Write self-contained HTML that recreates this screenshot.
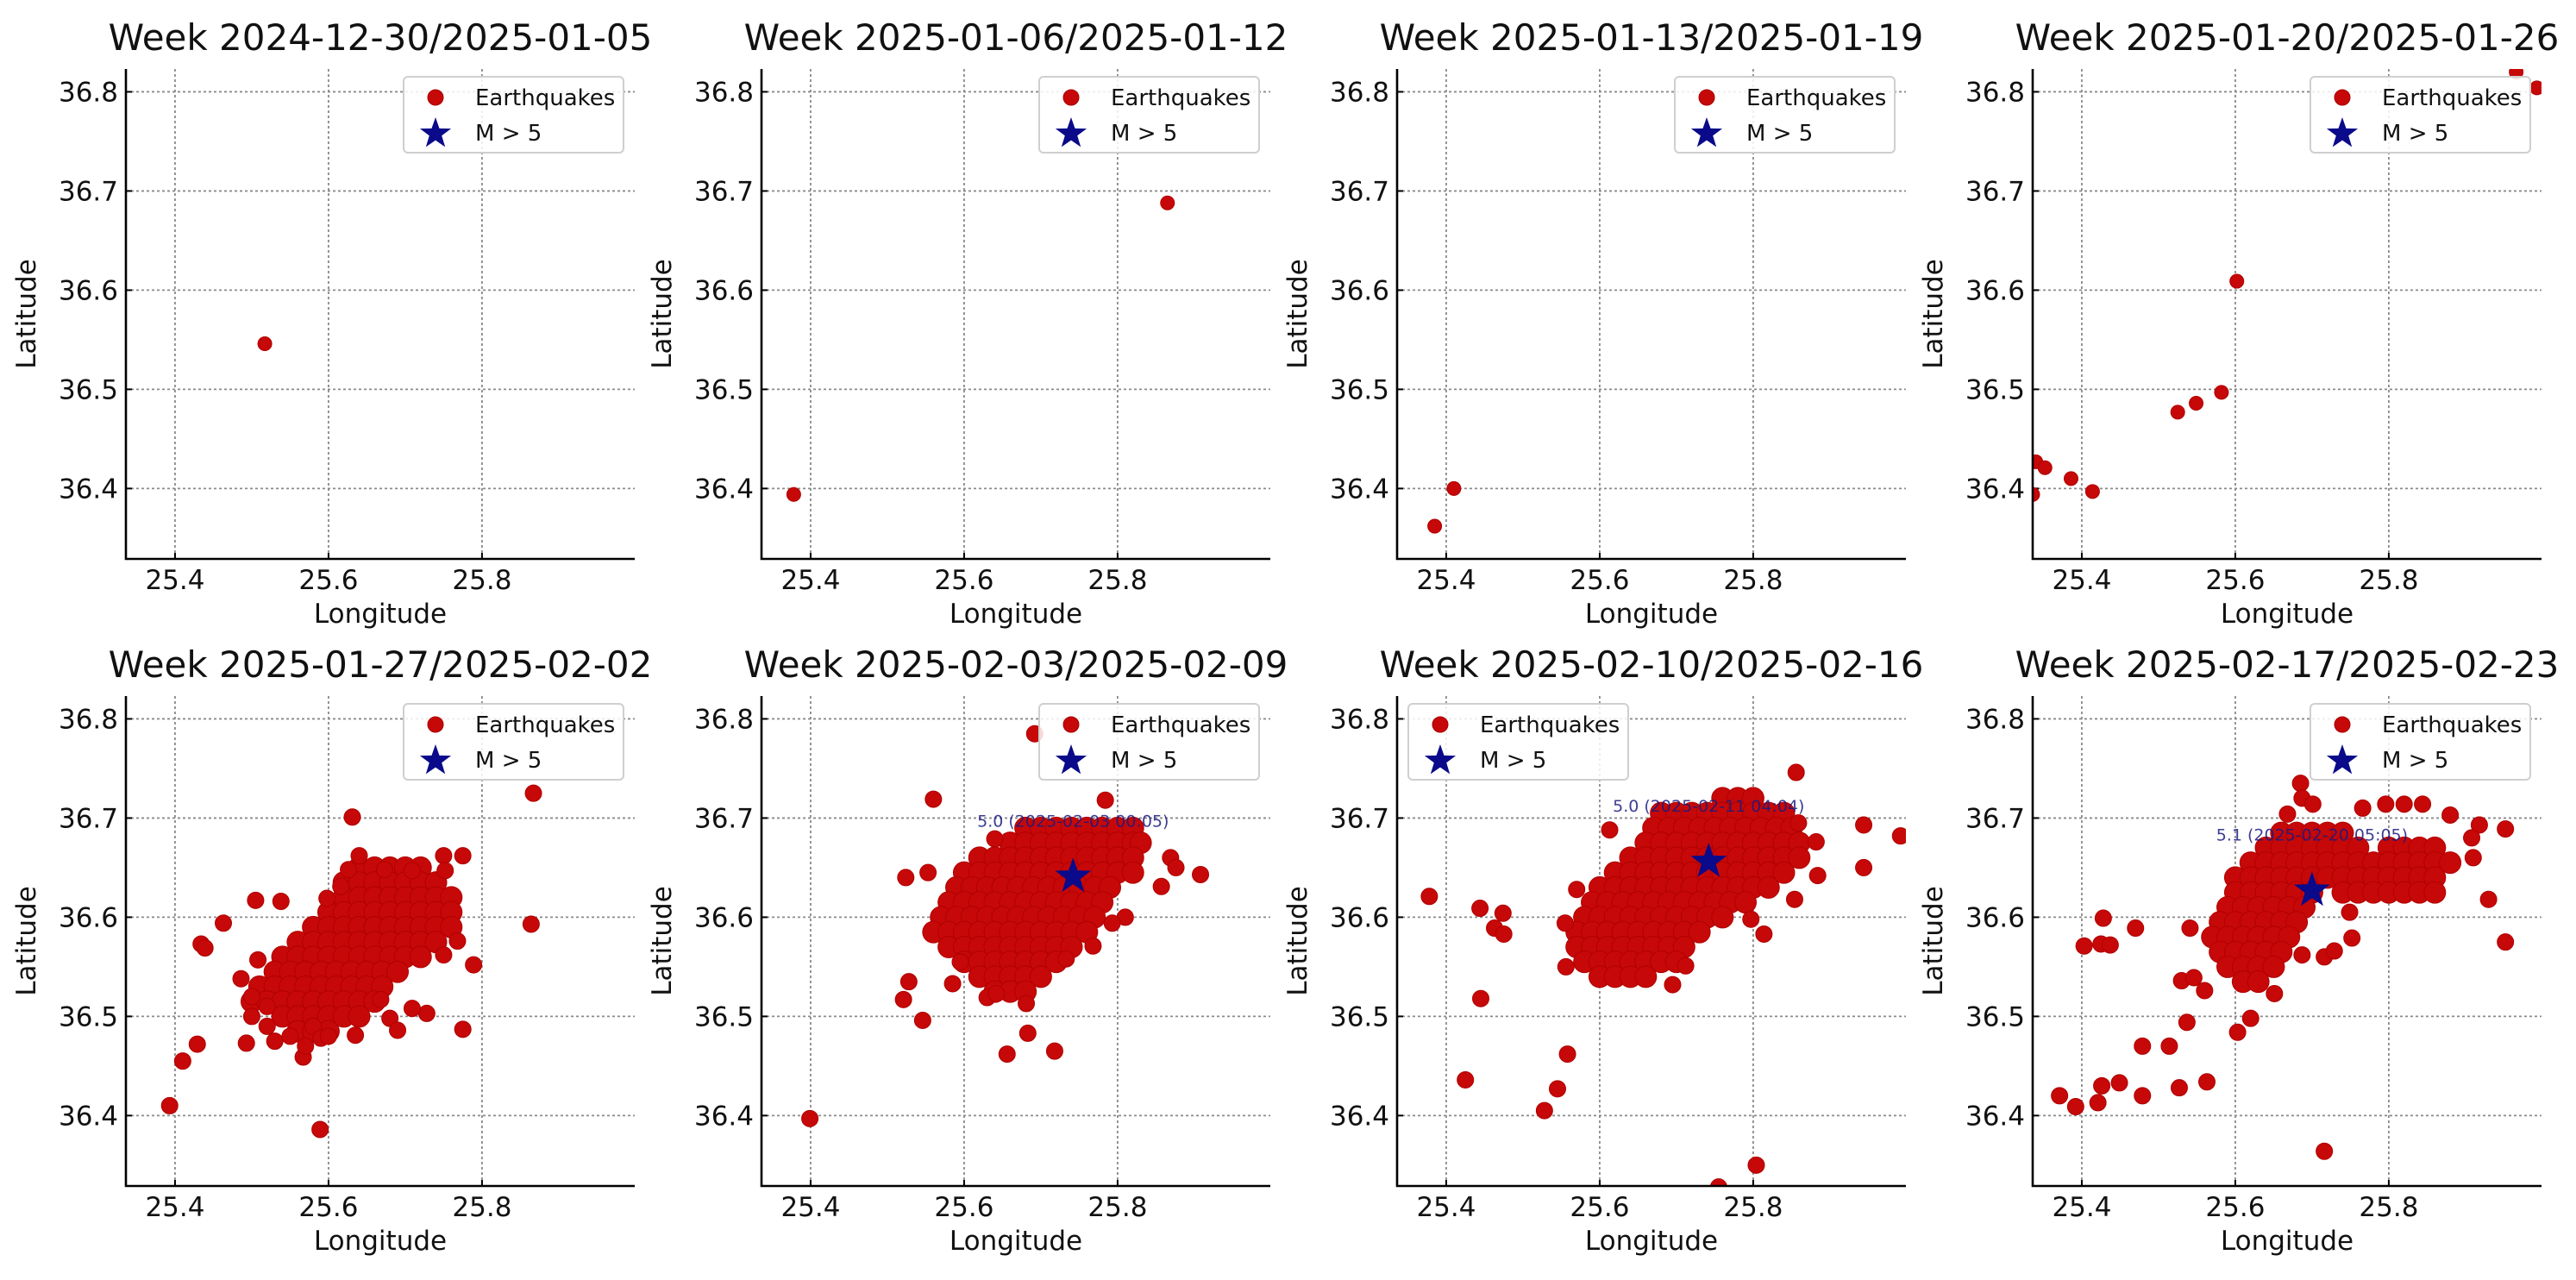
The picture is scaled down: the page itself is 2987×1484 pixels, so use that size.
<!DOCTYPE html>
<html><head><meta charset="utf-8">
<style>
html,body{margin:0;padding:0;background:#fff;}
svg{display:block;font-family:"DejaVu Sans","Liberation Sans",sans-serif;}
</style></head>
<body>
<svg id="fig" width="2987" height="1484" viewBox="0 0 2987 1484" xmlns="http://www.w3.org/2000/svg">
<rect width="2987" height="1484" fill="#fff"/>
</svg>
<script>
const weekTitles = ["Week 2024-12-30/2025-01-05","Week 2025-01-06/2025-01-12","Week 2025-01-13/2025-01-19","Week 2025-01-20/2025-01-26","Week 2025-01-27/2025-02-02","Week 2025-02-03/2025-02-09","Week 2025-02-10/2025-02-16","Week 2025-02-17/2025-02-23"];
const xTicks = [25.4,25.6,25.8];
const yTicks = [36.4,36.5,36.6,36.7,36.8];
const xTickLabels = ["25.4","25.6","25.8"];
const yTickLabels = ["36.4","36.5","36.6","36.7","36.8"];
const xDomain = [25.336,25.999];
const yDomain = [36.329,36.823];
const legendLeft = [false,false,false,false,false,false,true,false];

const pts1 = [[25.517,36.546]];
const pts2 = [[25.378,36.394],[25.865,36.688]];
const pts3 = [[25.385,36.362],[25.41,36.40]];
const pts4 = [[25.340,36.427],[25.352,36.421],[25.336,36.394],[25.386,36.410],[25.414,36.397],[25.525,36.477],[25.549,36.486],[25.582,36.497],[25.602,36.609],[25.966,36.820],[25.993,36.804]];
const pts5 = [[25.867,36.725],[25.631,36.701],[25.864,36.593],[25.393,36.410],[25.589,36.386],[25.410,36.455],[25.429,36.472],[25.493,36.473],[25.463,36.594],[25.434,36.573],[25.439,36.569],[25.505,36.617],[25.538,36.616],[25.598,36.619],[25.486,36.538],[25.508,36.557],[25.775,36.487],[25.789,36.552],[25.768,36.576],[25.750,36.562],[25.728,36.503],[25.709,36.508],[25.680,36.498],[25.690,36.486],[25.668,36.517],[25.635,36.481],[25.567,36.459],[25.775,36.662],[25.750,36.662],[25.752,36.647],[25.709,36.647],[25.640,36.662],[25.626,36.648],[25.616,36.631],[25.673,36.648],[25.50,36.52],[25.52,36.51],[25.50,36.50],[25.52,36.49],[25.55,36.48],[25.57,36.47],[25.53,36.475],[25.58,36.49],[25.59,36.478],[25.60,36.48]];
const rows5 = [
[36.65,[25.64,25.66,25.68,25.70,25.72]],
[36.635,[25.62,25.64,25.66,25.68,25.70,25.72,25.74]],
[36.62,[25.62,25.64,25.66,25.68,25.70,25.72,25.74,25.76]],
[36.605,[25.60,25.62,25.64,25.66,25.68,25.70,25.72,25.74,25.76]],
[36.59,[25.58,25.60,25.62,25.64,25.66,25.68,25.70,25.72,25.74,25.76]],
[36.575,[25.56,25.58,25.60,25.62,25.64,25.66,25.68,25.70,25.72,25.74]],
[36.56,[25.54,25.56,25.58,25.60,25.62,25.64,25.66,25.68,25.70,25.72]],
[36.545,[25.53,25.55,25.57,25.59,25.61,25.63,25.65,25.67,25.69]],
[36.53,[25.51,25.53,25.55,25.57,25.59,25.61,25.63,25.65,25.67]],
[36.515,[25.50,25.52,25.54,25.56,25.58,25.60,25.62,25.64,25.66]],
[36.50,[25.54,25.56,25.58,25.60,25.62,25.64]],
[36.485,[25.56,25.58,25.60]]];
const pts6 = [[25.692,36.785],[25.560,36.719],[25.784,36.718],[25.524,36.640],[25.553,36.645],[25.908,36.643],[25.869,36.660],[25.876,36.650],[25.857,36.631],[25.810,36.600],[25.399,36.397],[25.521,36.517],[25.528,36.535],[25.546,36.496],[25.585,36.533],[25.595,36.555],[25.630,36.519],[25.642,36.523],[25.681,36.513],[25.683,36.483],[25.656,36.462],[25.718,36.465],[25.733,36.558],[25.768,36.571],[25.793,36.594],[25.640,36.679]];
const rows6 = [
[36.69,[25.68,25.70,25.72,25.74,25.76,25.78,25.80,25.82]],
[36.675,[25.66,25.68,25.70,25.72,25.74,25.76,25.78,25.80,25.82,25.83]],
[36.66,[25.62,25.64,25.66,25.68,25.70,25.72,25.74,25.76,25.78,25.80,25.82]],
[36.645,[25.60,25.62,25.64,25.66,25.68,25.70,25.72,25.74,25.76,25.78,25.80,25.82]],
[36.63,[25.59,25.61,25.63,25.65,25.67,25.69,25.71,25.73,25.75,25.77,25.79]],
[36.615,[25.58,25.60,25.62,25.64,25.66,25.68,25.70,25.72,25.74,25.76,25.78]],
[36.60,[25.57,25.59,25.61,25.63,25.65,25.67,25.69,25.71,25.73,25.75,25.77]],
[36.585,[25.56,25.58,25.60,25.62,25.64,25.66,25.68,25.70,25.72,25.74,25.76]],
[36.57,[25.58,25.60,25.62,25.64,25.66,25.68,25.70,25.72,25.74]],
[36.555,[25.60,25.62,25.64,25.66,25.68,25.70,25.72]],
[36.54,[25.62,25.64,25.66,25.68,25.70]],
[36.525,[25.64,25.66,25.68]]];
const pts7 = [[25.378,36.621],[25.444,36.609],[25.474,36.604],[25.463,36.589],[25.475,36.583],[25.445,36.518],[25.425,36.436],[25.558,36.462],[25.545,36.427],[25.528,36.405],[25.804,36.350],[25.755,36.328],[25.555,36.594],[25.556,36.550],[25.570,36.628],[25.613,36.688],[25.856,36.746],[25.944,36.693],[25.992,36.682],[25.944,36.650],[25.884,36.642],[25.882,36.676],[25.854,36.618],[25.797,36.598],[25.814,36.583],[25.695,36.532],[25.712,36.551],[25.859,36.695]];
const rows7 = [
[36.72,[25.76,25.78,25.80]],
[36.705,[25.68,25.70,25.72,25.74,25.76,25.78,25.80,25.82,25.84]],
[36.69,[25.67,25.69,25.71,25.73,25.75,25.77,25.79,25.81,25.83,25.85]],
[36.675,[25.66,25.68,25.70,25.72,25.74,25.76,25.78,25.80,25.82,25.84,25.86]],
[36.66,[25.64,25.66,25.68,25.70,25.72,25.74,25.76,25.78,25.80,25.82,25.84,25.86]],
[36.645,[25.62,25.64,25.66,25.68,25.70,25.72,25.74,25.76,25.78,25.80,25.82,25.84]],
[36.63,[25.60,25.62,25.64,25.66,25.68,25.70,25.72,25.74,25.76,25.78,25.80,25.82]],
[36.615,[25.59,25.61,25.63,25.65,25.67,25.69,25.71,25.73,25.75,25.77,25.79]],
[36.60,[25.58,25.60,25.62,25.64,25.66,25.68,25.70,25.72,25.74,25.76]],
[36.585,[25.57,25.59,25.61,25.63,25.65,25.67,25.69,25.71,25.73]],
[36.57,[25.57,25.59,25.61,25.63,25.65,25.67,25.69,25.71]],
[36.555,[25.58,25.60,25.62,25.64,25.66,25.68,25.70]],
[36.54,[25.60,25.62,25.64,25.66]]];
const pts8 = [[25.371,36.420],[25.392,36.409],[25.421,36.413],[25.426,36.430],[25.449,36.433],[25.479,36.420],[25.479,36.470],[25.514,36.470],[25.527,36.428],[25.563,36.434],[25.537,36.494],[25.603,36.484],[25.620,36.498],[25.651,36.523],[25.716,36.364],[25.560,36.526],[25.530,36.536],[25.546,36.539],[25.403,36.571],[25.425,36.573],[25.437,36.572],[25.428,36.599],[25.470,36.589],[25.541,36.589],[25.952,36.575],[25.930,36.618],[25.952,36.689],[25.918,36.693],[25.908,36.680],[25.910,36.660],[25.880,36.703],[25.844,36.714],[25.796,36.714],[25.820,36.714],[25.766,36.710],[25.685,36.735],[25.687,36.720],[25.701,36.714],[25.668,36.704],[25.752,36.579],[25.749,36.605],[25.716,36.560],[25.729,36.566],[25.687,36.562]];
const rows8 = [
[36.685,[25.66,25.68,25.70,25.72,25.74]],
[36.67,[25.64,25.66,25.68,25.70,25.72,25.74,25.76,25.80,25.82,25.84,25.86]],
[36.655,[25.62,25.64,25.66,25.68,25.70,25.72,25.74,25.76,25.78,25.80,25.82,25.84,25.86,25.88]],
[36.64,[25.60,25.62,25.64,25.66,25.68,25.70,25.72,25.74,25.76,25.78,25.80,25.82,25.84,25.86]],
[36.625,[25.60,25.62,25.64,25.66,25.68,25.70,25.74,25.76,25.78,25.80,25.82,25.84,25.86]],
[36.61,[25.59,25.61,25.63,25.65,25.67,25.69]],
[36.595,[25.58,25.60,25.62,25.64,25.66,25.68]],
[36.58,[25.57,25.59,25.61,25.63,25.65,25.67]],
[36.565,[25.58,25.60,25.62,25.64,25.66]],
[36.55,[25.59,25.61,25.63,25.65]],
[36.535,[25.61,25.63]]];

const pointSets = [pts1,pts2,pts3,pts4,pts5,pts6,pts7,pts8];
const rowSets = [[],[],[],[],rows5,rows6,rows7,rows8];
const bigQuakeLon = [null,null,null,null,null,25.742,25.742,25.700];
const bigQuakeLat = [null,null,null,null,null,36.641,36.656,36.627];
const bigQuakeLabels = ["","","","","","5.0 (2025-02-03 00:05)","5.0 (2025-02-11 04:04)","5.1 (2025-02-20 05:05)"];

const NS = "http://www.w3.org/2000/svg";
const svg = document.getElementById('fig');
function mk(tag, attrs, parent){
  const e = document.createElementNS(NS, tag);
  for (const k in attrs) e.setAttribute(k, attrs[k]);
  (parent||svg).appendChild(e);
  return e;
}
function starPath(cx, cy, R){
  const r = R*0.4; let d = "";
  for (let i=0;i<10;i++){
    const rad = i%2===0 ? R : r;
    const a = -Math.PI/2 + i*Math.PI/5;
    d += (i===0?"M":"L") + (cx+rad*Math.cos(a)).toFixed(1) + "," + (cy+rad*Math.sin(a)).toFixed(1);
  }
  return d + "Z";
}

const W = 590;
for (let p=0;p<8;p++){
  const col = p%4, row = Math.floor(p/4);
  const L = 146 + col*737, T = row===0 ? 80 : 807, H = 568;
  const B = T + H, R = L + W;
  const sx = v => L + (v - xDomain[0])/(xDomain[1]-xDomain[0])*W;
  const sy = v => B - (v - yDomain[0])/(yDomain[1]-yDomain[0])*H;
  const g = mk('g', {});
  
  

  const title = mk('text', {x: L+W/2, y: T-22, 'text-anchor':'middle', 'font-size':42, fill:'#111'}, g);
  title.textContent = weekTitles[p];
  
  

  const clipId = 'clip'+p;
  const cp = mk('clipPath', {id: clipId}, g);
  mk('rect', {x:L, y:T, width:W, height:H}, cp);

  xTicks.forEach((t,i)=>{
    const gl = mk('line', {x1:sx(t), x2:sx(t), y1:T, y2:B, stroke:'#8a8a8a', 'stroke-width':1.8, 'stroke-dasharray':'3,3'}, g);
    
    
    mk('line', {x1:sx(t), x2:sx(t), y1:B, y2:B-7, stroke:'#000', 'stroke-width':2}, g);
    const tl = mk('text', {x:sx(t), y:B+35, 'text-anchor':'middle', 'font-size':31, fill:'#111'}, g);
    tl.textContent = xTickLabels[i];
    
    
  });
  yTicks.forEach((t,i)=>{
    const gl = mk('line', {x1:L, x2:R, y1:sy(t), y2:sy(t), stroke:'#8a8a8a', 'stroke-width':1.8, 'stroke-dasharray':'3,3'}, g);
    
    
    mk('line', {x1:L, x2:L+7, y1:sy(t), y2:sy(t), stroke:'#000', 'stroke-width':2}, g);
    const tl = mk('text', {x:L-9, y:sy(t)+11, 'text-anchor':'end', 'font-size':31, fill:'#111'}, g);
    tl.textContent = yTickLabels[i];
    
    
  });

  const marks = mk('g', {'clip-path':'url(#'+clipId+')'}, g);
  
  
  const rad = row===0 ? 8 : 9.5;
  const drawDot = (lon, lat, r) => {
    const c = mk('circle', {cx:sx(lon), cy:sy(lat), r:r, fill:'#c70808', stroke:'#b00000', 'stroke-width':1}, marks);
    
    
  };
  rowSets[p].forEach(rw => rw[1].forEach(lon => drawDot(lon, rw[0], 12.5)));
  pointSets[p].forEach(pt => drawDot(pt[0], pt[1], rad));

  if (bigQuakeLon[p] !== null){
    const st = mk('path', {d: starPath(sx(bigQuakeLon[p]), sy(bigQuakeLat[p]), 22), fill:'#0a0a8a'}, marks);
    
    
    const lb = mk('text', {x:sx(bigQuakeLon[p]), y:sy(bigQuakeLat[p])-58, 'text-anchor':'middle', 'font-size':19, fill:'#1a1a80', 'fill-opacity':0.85}, g);
    lb.textContent = bigQuakeLabels[p];
    
    
  }

  const sp = mk('path', {d:`M${L},${T}L${L},${B}L${R},${B}`, fill:'none', stroke:'#000', 'stroke-width':2.6}, g);
  
  

  const xl = mk('text', {x:L+W/2, y:B+74, 'text-anchor':'middle', 'font-size':31, fill:'#111'}, g);
  xl.textContent = 'Longitude';
  
  
  const yx = L-105, yy = T+H/2;
  const yl = mk('text', {x:yx, y:yy, 'text-anchor':'middle', 'font-size':31, fill:'#111', transform:`rotate(-90 ${yx} ${yy})`}, g);
  yl.textContent = 'Latitude';
  
  

  const lgX = legendLeft[p] ? L+13 : R-268, lgY = T+9;
  const lg = mk('g', {}, g);
  
  
  mk('rect', {x:lgX, y:lgY, width:255, height:88, rx:5, fill:'#fff', 'fill-opacity':0.85, stroke:'#cfcfcf', 'stroke-width':2}, lg);
  const lc = mk('circle', {cx:lgX+37, cy:lgY+24, r:9, fill:'#c70808', stroke:'#a80000'}, lg);
  
  
  const lt1 = mk('text', {x:lgX+83, y:lgY+33, 'font-size':26, fill:'#111'}, lg);
  lt1.textContent = 'Earthquakes';
  
  
  const ls = mk('path', {d: starPath(lgX+37, lgY+66, 19), fill:'#0a0a8a'}, lg);
  
  
  const lt2 = mk('text', {x:lgX+83, y:lgY+74, 'font-size':26, fill:'#111'}, lg);
  lt2.textContent = 'M > 5';
  
  
}
</script>
</body></html>
